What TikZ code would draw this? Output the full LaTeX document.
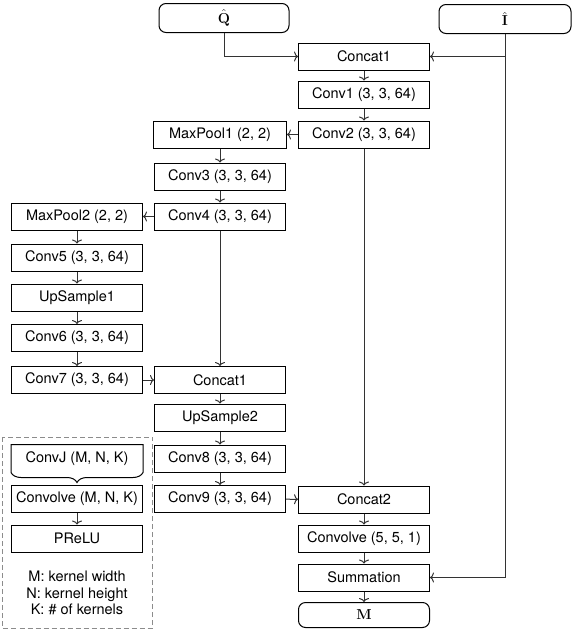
\documentclass[tikz,border=0pt]{standalone}
\usepackage[no-math]{fontspec}
\setmainfont{TeX Gyre Heros}
\usetikzlibrary{arrows.meta,decorations.pathreplacing}

\begin{document}
\begin{tikzpicture}[x=1pt, y=-1pt,
		box/.style={draw, line width=1pt, minimum width=131pt, minimum height=27pt, inner sep=0pt, font=\fontsize{14.5}{17}\selectfont},
		term/.style={box, rounded corners=7pt, minimum height=29pt},
		link/.style={line width=1pt, color=black!80, -{To[length=4pt,width=10pt]}}]
			%%%%% START %%%%%
			\useasboundingbox (0,0) rectangle (572,630);
			
			\node[term, minimum width=130pt] (qhat) at (224, 18) {$\hat{\mathbf{Q}}$};
			\node[term, minimum width=132pt] (ihat) at (505, 19) {$\hat{\mathbf{I}}$};
			
			% right column
			\node[box] (concatA) at (364, 56.5) {Concat1};
			\node[box] (convA) at (364, 94.5) {Conv1 (3, 3, 64)};
			\node[box] (convB) at (364, 134.5) {Conv2 (3, 3, 64)};
			\node[box] (concatC) at (364, 499.5) {Concat2};
			\node[box] (convolveC) at (364, 538.5) {Convolve (5, 5, 1)};
			\node[box] (summation) at (364, 577.5) {Summation};
			\node[term, minimum height=25pt] (mout) at (364, 615) {$\mathbf{M}$};
			
			% middle column
			\node[box, minimum width=133pt] (poolA) at (220, 134.5) {MaxPool1 (2, 2)};
			\node[box] (convC) at (220, 176.5) {Conv3 (3, 3, 64)};
			\node[box] (convD) at (220, 216.5) {Conv4 (3, 3, 64)};
			\node[box] (concatB) at (220, 380) {Concat1};
			\node[box] (upB) at (220, 417.5) {UpSample2};
			\node[box] (convH) at (220, 458.5) {Conv8 (3, 3, 64)};
			\node[box] (convI) at (220, 499) {Conv9 (3, 3, 64)};
			
			% left column
			\node[box] (poolB) at (77, 216.5) {MaxPool2 (2, 2)};
			\node[box] (convE) at (77, 257.5) {Conv5 (3, 3, 64)};
			\node[box] (upA) at (77, 297.5) {UpSample1};
			\node[box] (convF) at (77, 338) {Conv6 (3, 3, 64)};
			\node[box] (convG) at (77, 380) {Conv7 (3, 3, 64)};
			
			% legend
			\draw[line width=1pt, color=black!45, dash pattern=on 5pt off 3pt] (2.5, 437) rectangle (152.5, 628);
			\node[box, draw=none] (convJ) at (77, 458.5) {ConvJ (M, N, K)};
			\draw[line width=1pt] (convJ.south west) -- (convJ.north west) -- (convJ.north east) -- (convJ.south east)
				decorate[decoration={brace, amplitude=10pt}] {-- (convJ.south west)};
			\node[box] (convolveJ) at (77, 499) {Convolve (M, N, K)};
			\node[box] (prelu) at (77, 538.5) {PReLU};
			\node[align=center, font=\fontsize{14.5}{16.5}\selectfont] (legend) at (77, 593) {M: kernel width\\N: kernel height\\K: \# of kernels};
			
			% connectors
			\draw[link] (qhat.south) |- (concatA.west);
			\draw[link] (ihat.south) |- (concatA.east);
			\draw[link] (ihat.south) |- (summation.east);
			\draw[link] (concatA) -- (convA);
			\draw[link] (convA) -- (convB);
			\draw[link] (convB) -- (poolA);
			\draw[link] (poolA) -- (convC);
			\draw[link] (convC) -- (convD);
			\draw[link] (convD) -- (poolB);
			\draw[link] (poolB) -- (convE);
			\draw[link] (convE) -- (upA);
			\draw[link] (upA) -- (convF);
			\draw[link] (convF) -- (convG);
			\draw[link] (convG) -- (concatB);
			\draw[link] (convD) -- (concatB);
			\draw[link] (concatB) -- (upB);
			\draw[link] (upB) -- (convH);
			\draw[link] (convH) -- (convI);
			\draw[link] (convI) -- (concatC);
			\draw[link] (convB) -- (concatC);
			\draw[link] (concatC) -- (convolveC);
			\draw[link] (convolveC) -- (summation);
			\draw[link] (summation) -- (mout);
			\draw[link] (convolveJ) -- (prelu);
			
			%%%%% END %%%%%
		\end{tikzpicture}
\end{document}
